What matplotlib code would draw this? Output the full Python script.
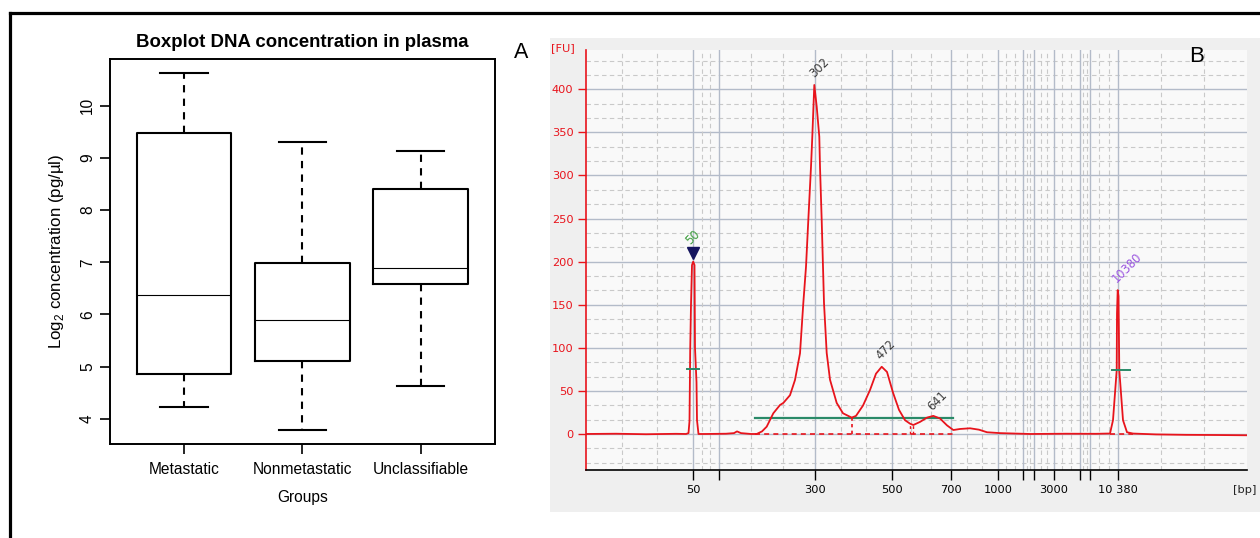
import numpy as np
import matplotlib.pyplot as plt
from matplotlib.lines import Line2D
from matplotlib.patches import Rectangle

# ---- panel A: boxplot data (log2 pg/ul) ----
groups = ['Metastatic', 'Nonmetastatic', 'Unclassifiable']
whisk_lo = [4.23, 3.79, 4.62]
q1 = [4.85, 5.10, 6.58]
medians = [6.37, 5.90, 6.90]
q3 = [9.49, 6.98, 8.41]
whisk_hi = [10.64, 9.31, 9.14]

# ---- panel B: electropherogram (x = migration position, y = FU) ----
trace_pos = [0, 30, 60, 90, 100, 102.5, 103.5, 104.2, 105, 106, 107.2, 108.5, 109, 110.5, 111,
             112.5, 120, 140, 148, 151, 155, 165, 170.7, 176, 180.7, 187.3, 194, 197.3, 204,
             209, 214, 217.3, 220, 222.3, 225, 226.3, 228.3, 230.7, 233.3, 234, 235.7, 237,
             238, 240.7, 244, 250.7, 257, 265.7, 270, 277, 284, 290, 295.7, 301, 307, 313,
             319, 324, 327.3, 334, 341, 347.3, 354, 361, 367.3, 374, 384, 393, 401, 414, 444,
             480, 510, 522, 524, 527, 530.7, 531, 531.7, 532.5, 533.3, 537, 541, 547, 570,
             600, 630, 661]
trace_fu = [0, 0.3, -0.3, 0.2, 0, 1, 15, 97, 150, 196, 200, 196, 100, 60, 16,
            0, 0, 0.3, 1, 3, 1, 0, 0, 3, 8.5, 24, 33.6, 36, 45,
            62.7, 93.6, 151.7, 194, 248, 310, 345, 405, 380, 345, 310, 248, 194,
            152, 94, 63, 36, 24, 19, 21, 33, 51, 70, 78, 72, 48, 28,
            16, 12, 10.4, 14, 19, 21, 18, 10, 4.6, 5.8, 6.6, 5, 2, 1, 0,
            0.3, 0.2, 0.5, 0.5, 16, 74, 140, 167, 160, 74, 16, 2, 0.5, -0.5,
            -1, -1.2, -1.5]
ladder_pos = [107, 133, 229, 305.5, 365, 412, 437, 448, 467.5, 494, 504, 532]
ladder_lbl = ['50', '', '300', '500', '700', '1000', '', '', '3000', '', '', '10 380']
peak_pos = [107, 229, 296, 347]
peak_fu = [200, 405, 78, 21]
peak_lbl = ['50', '302', '472', '641']
upper_pos, upper_fu, upper_lbl = 531.7, 167, '10380'
smear_from, smear_to, smear_level = 169, 367, 19

W, H = 1260, 538
fig = plt.figure(figsize=(W / 100, H / 100), dpi=100)


def px_box(l, t, r, b):
    return [l / W, 1 - b / H, (r - l) / W, (b - t) / H]


# outer frame (top and left edges)
fig.add_artist(Line2D([10 / W, 1], [1 - 13 / H, 1 - 13 / H], color='black', lw=2.3))
fig.add_artist(Line2D([10 / W, 10 / W], [0, 1 - 13 / H], color='black', lw=2.3))

# ================= panel A =================
lib = 'Liberation Sans'
ax = fig.add_axes(px_box(110.2, 58.5, 494.8, 444.2))
stats = [dict(med=m, q1=a, q3=b, whislo=lo, whishi=hi, fliers=[])
         for m, a, b, lo, hi in zip(medians, q1, q3, whisk_lo, whisk_hi)]
ax.bxp(stats, positions=[1, 2, 3], widths=0.8, showfliers=False,
       boxprops=dict(color='black', lw=1.5),
       medianprops=dict(color='black', lw=0.8),
       whiskerprops=dict(color='black', lw=1.5, linestyle=(0, (3.5, 3))),
       capprops=dict(color='black', lw=1.5))
ax.set_xlim(0.375, 3.626)
ax.set_ylim(3.51, 10.91)
ax.set_yticks([4, 5, 6, 7, 8, 9, 10])
ax.set_yticklabels(['4', '5', '6', '7', '8', '9', '10'], rotation=90, va='center',
                   family=lib, fontsize=11.2)
ax.set_xticks([1, 2, 3])
ax.set_xticklabels(groups, family=lib, fontsize=11.2)
ax.tick_params(axis='y', length=7, width=1.2, pad=4)
ax.tick_params(axis='x', length=7, width=1.2, pad=6)
for s in ax.spines.values():
    s.set_linewidth(1.4)
ax.set_title('Boxplot DNA concentration in plasma', family=lib, fontweight='bold',
             fontsize=13.4, pad=8)
ax.set_xlabel('Groups', family=lib, fontsize=11.2, labelpad=9)
ax.set_ylabel('Log$_{\\mathregular{2}}$ concentration (pg/µl)', family=lib, fontsize=12.2,
              labelpad=10)
fig.text(521 / W, 1 - 52 / H, 'A', family=lib, fontsize=15.5, ha='center', va='center')

# ================= panel B =================
fig.add_artist(Rectangle((550 / W, 1 - 512 / H), 710 / W, 474 / H,
                         transform=fig.transFigure, facecolor='#efefef', edgecolor='none',
                         zorder=0))
bx = fig.add_axes(px_box(586, 50, 1247, 470))
bx.set_facecolor('#f9f9f9')
bx.set_xlim(0, 661)
bx.set_ylim(-41.8, 445.6)

grid_solid = '#b3bbc9'
grid_dash = '#c9c9c9'
for y in np.arange(0, 401, 50):
    bx.axhline(y, color=grid_solid, lw=1, zorder=1)
for y in np.arange(-50, 446, 50 / 3):
    if abs(y / 50 - round(y / 50)) > 1e-6:
        bx.axhline(y, color=grid_dash, lw=0.8, ls=(0, (4, 3)), zorder=1)
for x in ladder_pos:
    bx.axvline(x, color=grid_solid, lw=1, zorder=1)
edges = [0] + ladder_pos + [661]
for a, b in zip(edges[:-1], edges[1:]):
    for x in np.linspace(a, b, 4)[1:-1]:
        bx.axvline(x, color=grid_dash, lw=0.8, ls=(0, (4, 3)), zorder=1)

# smear region baseline and cut lines
red = '#e8141c'
green = '#2a8a68'
bx.plot([smear_from, smear_to], [smear_level, smear_level], color=green, lw=1.6, zorder=3)
bx.plot([smear_from, smear_to], [0, 0], color=red, lw=1.2, ls=(0, (3, 2.5)), zorder=3)
bx.plot([524, 547], [0, 0], color=red, lw=1.2, ls=(0, (3, 2.5)), zorder=3)
bx.plot([265.7, 265.7], [0, smear_level], color=red, lw=1.2, ls=(0, (2, 2)), zorder=3)
bx.plot([324, 324], [0, 10], color=red, lw=1.0, ls=(0, (2, 2)), zorder=3)
bx.plot([327.3, 327.3], [0, 10], color=red, lw=1.0, ls=(0, (2, 2)), zorder=3)

bx.plot(trace_pos, trace_fu, color=red, lw=1.3, zorder=4)

# half-height markers of the ladder peaks
for xc, yc, hw in [(107, 75, 6), (535, 74, 9)]:
    bx.plot([xc - hw, xc + hw], [yc, yc], color=green, lw=1.4, zorder=5)

# peak annotations
dv = 'DejaVu Sans'
bx.plot(peak_pos[0], 210, marker='v', color='#15155e', markersize=8.5, zorder=6)
lbl_off = [(0, 18), (4, 20), (4, 20), (4, 17)]
lbl_col = ['#3a9c3a', '#3a3a3a', '#3a3a3a', '#3a3a3a']
for x, y, t, (dx, dy), c in zip(peak_pos, peak_fu, peak_lbl, lbl_off, lbl_col):
    bx.text(x + dx, y + dy + (10 if t == '50' else 0), t, rotation=45, ha='center',
            va='center', fontsize=8.3, color=c, family=dv, zorder=6)
bx.text(upper_pos + 9, upper_fu + 26, upper_lbl, rotation=45, ha='center', va='center',
        fontsize=8.3, color='#9b55e0', family=dv, zorder=6)

bx.set_yticks(np.arange(0, 401, 50))
bx.set_yticklabels([str(v) for v in range(0, 401, 50)], color=red, family=dv,
                   fontsize=8.2)
bx.set_xticks(ladder_pos)
bx.set_xticklabels(ladder_lbl, color='#222222', family=dv, fontsize=8.2)
bx.tick_params(axis='y', colors=red, length=6, width=1, pad=3, labelcolor=red)
bx.tick_params(axis='x', colors='black', length=7, width=1, pad=4)
bx.spines['left'].set_color(red)
bx.spines['left'].set_linewidth(1.2)
bx.spines['bottom'].set_color('black')
bx.spines['bottom'].set_linewidth(1.2)
bx.spines['top'].set_visible(False)
bx.spines['right'].set_visible(False)

fig.text(563 / W, 1 - 48 / H, '[FU]', color=red, family=dv, fontsize=8.2,
         ha='center', va='center')
fig.text(1245 / W, 1 - 490 / H, '[bp]', color='#222222', family=dv, fontsize=8.2,
         ha='center', va='center')
fig.text(1196.7 / W, 1 - 57 / H, 'B', family=lib, fontsize=16, ha='center', va='center')

fig.savefig('out.png', dpi=100, facecolor='white')
